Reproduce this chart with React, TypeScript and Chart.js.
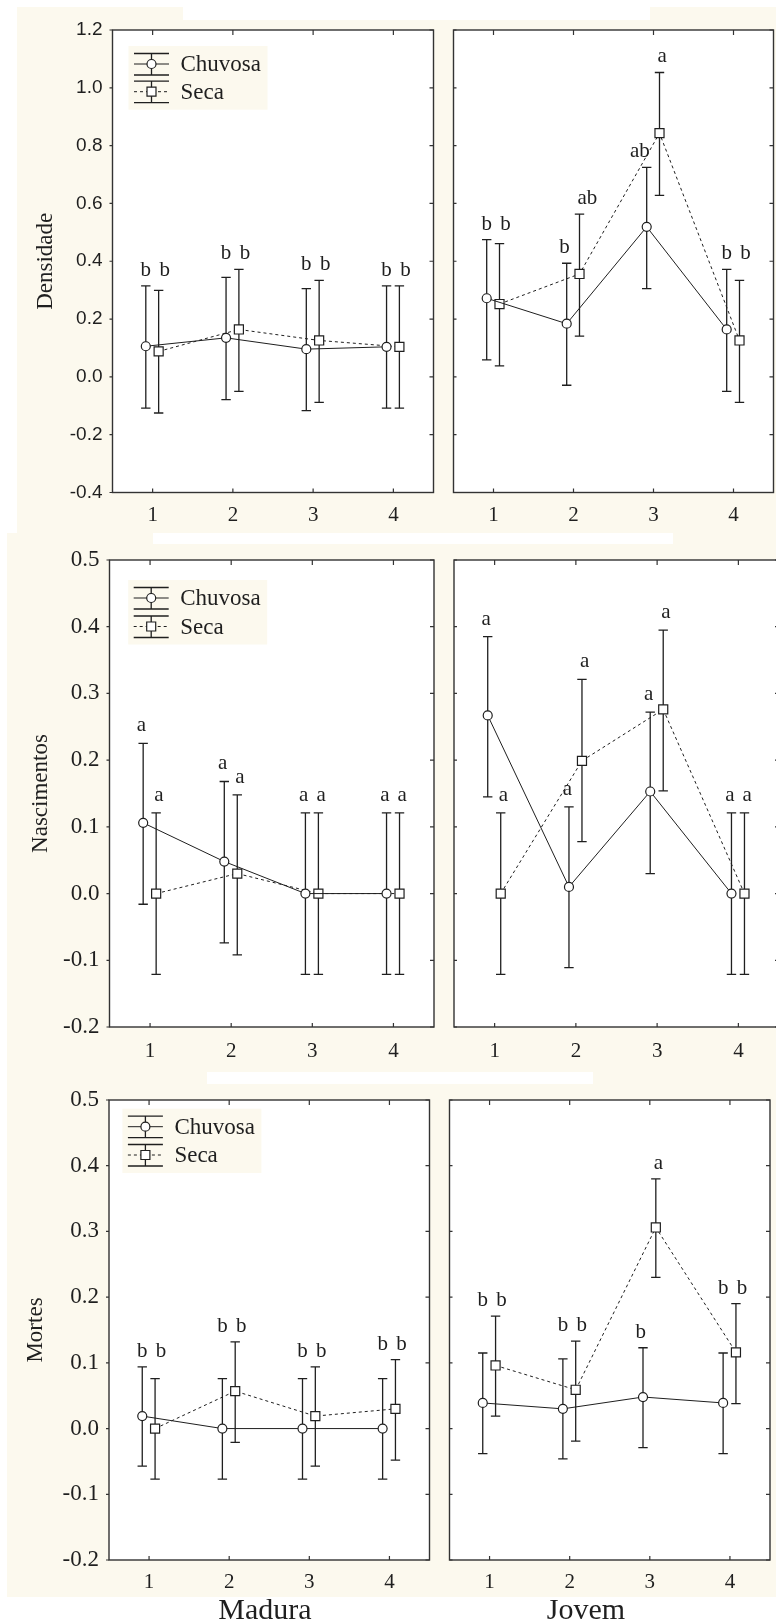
import React, { useEffect, useRef } from "react";
import { Chart, registerables } from "chart.js";

Chart.register(...registerables);

// ---------------- data ----------------
const categories = ["1", "2", "3", "4"];
const seriesNames = ["Chuvosa", "Seca"];
const densidadeTicks = [-0.4, -0.2, 0, 0.2, 0.4, 0.6, 0.8, 1.0, 1.2];
const taxaTicks = [-0.2, -0.1, 0, 0.1, 0.2, 0.3, 0.4, 0.5];
const rowTitles = ["Densidade", "Nascimentos", "Mortes"];
const colTitles = ["Madura", "Jovem"];

// Densidade – Madura
const densMadChuvMean = [0.106, 0.135, 0.096, 0.104];
const densMadChuvUpper = [0.315, 0.344, 0.305, 0.315];
const densMadChuvLower = [-0.108, -0.079, -0.117, -0.108];
const densMadChuvLetters = ["b", "b", "b", "b"];
const densMadSecaMean = [0.088, 0.164, 0.126, 0.104];
const densMadSecaUpper = [0.299, 0.372, 0.334, 0.315];
const densMadSecaLower = [-0.125, -0.05, -0.088, -0.108];
const densMadSecaLetters = ["b", "b", "b", "b"];

// Densidade – Jovem
const densJovChuvMean = [0.272, 0.184, 0.519, 0.164];
const densJovChuvUpper = [0.475, 0.393, 0.725, 0.372];
const densJovChuvLower = [0.059, -0.029, 0.305, -0.05];
const densJovChuvLetters = ["b", "b", "ab", "b"];
const densJovSecaMean = [0.252, 0.356, 0.843, 0.126];
const densJovSecaUpper = [0.461, 0.563, 1.053, 0.334];
const densJovSecaLower = [0.038, 0.141, 0.628, -0.088];
const densJovSecaLetters = ["b", "ab", "a", "b"];

// Nascimentos – Madura
const nascMadChuvMean = [0.106, 0.048, 0, 0];
const nascMadChuvUpper = [0.225, 0.168, 0.121, 0.121];
const nascMadChuvLower = [-0.016, -0.074, -0.121, -0.121];
const nascMadChuvLetters = ["a", "a", "a", "a"];
const nascMadSecaMean = [0, 0.03, 0, 0];
const nascMadSecaUpper = [0.121, 0.148, 0.121, 0.121];
const nascMadSecaLower = [-0.121, -0.092, -0.121, -0.121];
const nascMadSecaLetters = ["a", "a", "a", "a"];

// Nascimentos – Jovem
const nascJovChuvMean = [0.267, 0.01, 0.153, 0];
const nascJovChuvUpper = [0.385, 0.13, 0.272, 0.121];
const nascJovChuvLower = [0.145, -0.111, 0.03, -0.121];
const nascJovChuvLetters = ["a", "a", "a", "a"];
const nascJovSecaMean = [0, 0.199, 0.276, 0];
const nascJovSecaUpper = [0.121, 0.321, 0.395, 0.121];
const nascJovSecaLower = [-0.121, 0.078, 0.154, -0.121];
const nascJovSecaLetters = ["a", "a", "a", "a"];

// Mortes – Madura
const mortMadChuvMean = [0.019, 0, 0, 0];
const mortMadChuvUpper = [0.094, 0.076, 0.076, 0.076];
const mortMadChuvLower = [-0.057, -0.077, -0.077, -0.077];
const mortMadChuvLetters = ["b", "b", "b", "b"];
const mortMadSecaMean = [0, 0.057, 0.019, 0.03];
const mortMadSecaUpper = [0.076, 0.132, 0.094, 0.105];
const mortMadSecaLower = [-0.077, -0.021, -0.057, -0.048];
const mortMadSecaLetters = ["b", "b", "b", "b"];

// Mortes – Jovem
const mortJovChuvMean = [0.039, 0.03, 0.048, 0.039];
const mortJovChuvUpper = [0.115, 0.106, 0.123, 0.115];
const mortJovChuvLower = [-0.038, -0.046, -0.029, -0.038];
const mortJovChuvLetters = ["b", "b", "b", "b"];
const mortJovSecaMean = [0.096, 0.059, 0.306, 0.116];
const mortJovSecaUpper = [0.171, 0.133, 0.38, 0.19];
const mortJovSecaLower = [0.019, -0.019, 0.23, 0.038];
const mortJovSecaLetters = ["b", "b", "a", "b"];

// ---------------- styling / layout ----------------
const SERIF = "'Liberation Serif', 'Times New Roman', serif";
const SANS = "'Liberation Sans', Arial, sans-serif";
const INK = "#1f1f1f";
const CREAM = "#fcf9ee";
const SERIES_OFFSET = [-0.085, 0.075];

const ROW_Y = [
  { t: 30, b: 492.5 },
  { t: 560, b: 1027 },
  { t: 1100, b: 1560 },
];
const COL_X = [
  [{ l: 112.5, r: 433.5 }, { l: 453.5, r: 773.5 }],
  [{ l: 109.5, r: 434 }, { l: 454, r: 779 }],
  [{ l: 109, r: 429.5 }, { l: 449.5, r: 770 }],
];
const ROW_STYLE = [
  {
    yMin: -0.4, yMax: 1.2, yTicks: densidadeTicks,
    yFont: { family: SANS, size: 19 },
    titleX: 46, legend: { dx: 39, dy: 34, gap: 27.7 },
    joinSame: true, gap: 10, xPad: 10,
  },
  {
    yMin: -0.2, yMax: 0.5, yTicks: taxaTicks,
    yFont: { family: SERIF, size: 23 },
    titleX: 41, legend: { dx: 41.7, dy: 38, gap: 28.5 },
    joinSame: false, gap: 12, xPad: 11.5,
  },
  {
    yMin: -0.2, yMax: 0.5, yTicks: taxaTicks,
    yFont: { family: SERIF, size: 23 },
    titleX: 36, legend: { dx: 36.4, dy: 26.7, gap: 28.3 },
    joinSame: true, gap: 10, xPad: 10,
  },
];
const X_TITLE_POS = [
  { x: 265, y: 1611 },
  { x: 586, y: 1611 },
];

type Series = { mean: number[]; upper: number[]; lower: number[]; letters: string[] };
const mk = (mean: number[], upper: number[], lower: number[], letters: string[]): Series => ({
  mean, upper, lower, letters,
});

const PANEL_SERIES: Series[][][] = [
  [
    [mk(densMadChuvMean, densMadChuvUpper, densMadChuvLower, densMadChuvLetters),
     mk(densMadSecaMean, densMadSecaUpper, densMadSecaLower, densMadSecaLetters)],
    [mk(densJovChuvMean, densJovChuvUpper, densJovChuvLower, densJovChuvLetters),
     mk(densJovSecaMean, densJovSecaUpper, densJovSecaLower, densJovSecaLetters)],
  ],
  [
    [mk(nascMadChuvMean, nascMadChuvUpper, nascMadChuvLower, nascMadChuvLetters),
     mk(nascMadSecaMean, nascMadSecaUpper, nascMadSecaLower, nascMadSecaLetters)],
    [mk(nascJovChuvMean, nascJovChuvUpper, nascJovChuvLower, nascJovChuvLetters),
     mk(nascJovSecaMean, nascJovSecaUpper, nascJovSecaLower, nascJovSecaLetters)],
  ],
  [
    [mk(mortMadChuvMean, mortMadChuvUpper, mortMadChuvLower, mortMadChuvLetters),
     mk(mortMadSecaMean, mortMadSecaUpper, mortMadSecaLower, mortMadSecaLetters)],
    [mk(mortJovChuvMean, mortJovChuvUpper, mortJovChuvLower, mortJovChuvLetters),
     mk(mortJovSecaMean, mortJovSecaUpper, mortJovSecaLower, mortJovSecaLetters)],
  ],
];

const PAD_TOP = 25;
const PAD_RIGHT = 15;

function panelBox(row: number, col: number) {
  const { t, b } = ROW_Y[row];
  const { l, r } = COL_X[row][col];
  const cx = col === 0 ? 0 : Math.floor(l - 15);
  const cy = Math.floor(t - PAD_TOP);
  const padTop = t - cy;
  const wL = l - cx;
  const cw = Math.ceil(r + PAD_RIGHT - cx);
  const padRight = cw - (r - cx);
  const bottomEdge = row === 2 ? 1640 : Math.ceil(b + 60);
  const ch = bottomEdge - cy;
  const hB = bottomEdge - b;
  return { cx, cy, cw, ch, wL, hB, padTop, padRight };
}

function drawMarker(ctx: CanvasRenderingContext2D, kind: number, x: number, y: number) {
  ctx.save();
  ctx.fillStyle = "#ffffff";
  ctx.strokeStyle = INK;
  ctx.lineWidth = 1.2;
  ctx.setLineDash([]);
  ctx.beginPath();
  if (kind === 0) {
    ctx.arc(x, y, 4.5, 0, Math.PI * 2);
  } else {
    ctx.rect(x - 4.5, y - 4.5, 9, 9);
  }
  ctx.fill();
  ctx.stroke();
  ctx.restore();
}

function makeDecor(row: number, col: number, box: ReturnType<typeof panelBox>) {
  const st = ROW_STYLE[row];
  return {
    id: "decor",
    beforeDraw(chart: any) {
      const { ctx, chartArea: a } = chart;
      ctx.save();
      ctx.fillStyle = "#ffffff";
      ctx.fillRect(a.left, a.top, a.right - a.left, a.bottom - a.top);
      ctx.restore();
    },
    beforeDatasetsDraw(chart: any) {
      const { ctx } = chart;
      const xs = chart.scales.x;
      const ys = chart.scales.y;
      ctx.save();
      ctx.strokeStyle = INK;
      ctx.lineWidth = 1.3;
      chart.data.datasets.forEach((ds: any) => {
        ds.data.forEach((p: any, j: number) => {
          const x = xs.getPixelForValue(p.x);
          const yu = ys.getPixelForValue(ds.errUpper[j]);
          const yl = ys.getPixelForValue(ds.errLower[j]);
          ctx.beginPath();
          ctx.moveTo(x, yu);
          ctx.lineTo(x, yl);
          ctx.moveTo(x - 4.7, yu);
          ctx.lineTo(x + 4.7, yu);
          ctx.moveTo(x - 4.7, yl);
          ctx.lineTo(x + 4.7, yl);
          ctx.stroke();
        });
      });
      ctx.restore();
    },
    afterDatasetsDraw(chart: any) {
      const { ctx, chartArea: a } = chart;
      const xs = chart.scales.x;
      const ys = chart.scales.y;
      const [c, s] = chart.data.datasets;
      // significance letters
      ctx.save();
      ctx.fillStyle = INK;
      ctx.font = `21px ${SERIF}`;
      ctx.textBaseline = "alphabetic";
      for (let j = 0; j < categories.length; j++) {
        const lc = c.letters[j];
        const ls = s.letters[j];
        const xc = xs.getPixelForValue(c.data[j].x);
        const xsS = xs.getPixelForValue(s.data[j].x);
        const yc = ys.getPixelForValue(c.errUpper[j]);
        const ysS = ys.getPixelForValue(s.errUpper[j]);
        if (st.joinSame && lc === ls) {
          const y = Math.min(yc, ysS) - st.gap;
          ctx.textAlign = "center";
          ctx.fillText(lc, xc, y);
          ctx.fillText(ls, xsS + 6, y);
        } else {
          if (lc) {
            ctx.textAlign = "right";
            ctx.fillText(lc, xc + 3, yc - st.gap);
          }
          if (ls) {
            ctx.textAlign = "left";
            ctx.fillText(ls, xsS - 2, ysS - st.gap);
          }
        }
      }
      ctx.restore();

      // legend (left column only)
      if (col === 0) {
        const lg = st.legend;
        const sx = a.left + lg.dx;
        const y1 = a.top + lg.dy;
        ctx.save();
        ctx.fillStyle = CREAM;
        ctx.fillRect(sx - 23, y1 - 18, 139, lg.gap + 36);
        chart.data.datasets.forEach((ds: any, i: number) => {
          const y = y1 + i * lg.gap;
          ctx.strokeStyle = INK;
          ctx.lineWidth = 1.3;
          ctx.setLineDash([]);
          ctx.beginPath();
          ctx.moveTo(sx, y - 10.5);
          ctx.lineTo(sx, y + 11);
          ctx.moveTo(sx - 17.5, y - 10.5);
          ctx.lineTo(sx + 17.5, y - 10.5);
          ctx.moveTo(sx - 17.5, y + 11);
          ctx.lineTo(sx + 17.5, y + 11);
          ctx.stroke();
          ctx.lineWidth = 1;
          ctx.setLineDash(i === 1 ? [3, 3] : []);
          ctx.beginPath();
          ctx.moveTo(sx - 17.5, y);
          ctx.lineTo(sx + 17.5, y);
          ctx.stroke();
          ctx.setLineDash([]);
          drawMarker(ctx, i, sx, y);
          ctx.fillStyle = INK;
          ctx.font = `23px ${SERIF}`;
          ctx.textAlign = "left";
          ctx.textBaseline = "middle";
          ctx.fillText(ds.label, sx + 29, y + 1);
        });
        ctx.restore();
      }
    },
    afterDraw(chart: any) {
      const { ctx, chartArea: a } = chart;
      const xs = chart.scales.x;
      const ys = chart.scales.y;
      ctx.save();
      ctx.strokeStyle = "#333333";
      ctx.lineWidth = 1.4;
      ctx.strokeRect(a.left, a.top, a.right - a.left, a.bottom - a.top);
      ctx.lineWidth = 1.2;
      ctx.beginPath();
      xs.ticks.forEach((t: any) => {
        const px = xs.getPixelForValue(t.value);
        ctx.moveTo(px, a.top);
        ctx.lineTo(px, a.top + 5);
        ctx.moveTo(px, a.bottom);
        ctx.lineTo(px, a.bottom - 4);
      });
      ys.ticks.forEach((t: any) => {
        const py = ys.getPixelForValue(t.value);
        if (col === 0) {
          ctx.moveTo(a.left - 3, py);
          ctx.lineTo(a.left, py);
        } else {
          ctx.moveTo(a.left, py);
          ctx.lineTo(a.left + 3, py);
        }
        ctx.moveTo(a.right - 4, py);
        ctx.lineTo(a.right, py);
      });
      ctx.stroke();
      ctx.restore();

      ctx.save();
      ctx.fillStyle = INK;
      ctx.textAlign = "center";
      ctx.textBaseline = "middle";
      if (col === 0) {
        ctx.font = `23px ${SERIF}`;
        ctx.translate(st.titleX - box.cx, (a.top + a.bottom) / 2);
        ctx.rotate(-Math.PI / 2);
        ctx.fillText(rowTitles[row], 0, 0);
        ctx.setTransform(1, 0, 0, 1, 0, 0);
      }
      if (row === 2) {
        const p = X_TITLE_POS[col];
        ctx.font = `30px ${SERIF}`;
        ctx.fillText(colTitles[col], p.x - box.cx, p.y - box.cy);
      }
      ctx.restore();
    },
  };
}

function Panel({ row, col }: { row: number; col: number }) {
  const ref = useRef<HTMLCanvasElement>(null);
  const box = panelBox(row, col);
  useEffect(() => {
    const st = ROW_STYLE[row];
    const series = PANEL_SERIES[row][col];
    const chart = new Chart(ref.current as HTMLCanvasElement, {
      type: "line",
      data: {
        datasets: series.map((s, i) => ({
          label: seriesNames[i],
          data: s.mean.map((m, j) => ({ x: j + 1 + SERIES_OFFSET[i], y: m })),
          errUpper: s.upper,
          errLower: s.lower,
          letters: s.letters,
          borderColor: INK,
          borderWidth: 1,
          borderDash: i === 1 ? [3, 3] : [],
          pointStyle: i === 0 ? "circle" : "rect",
          pointRadius: i === 0 ? 4.5 : 6.4,
          pointBackgroundColor: "#ffffff",
          pointBorderColor: INK,
          pointBorderWidth: 1.2,
          tension: 0,
          fill: false,
        })) as any,
      },
      options: {
        animation: false,
        responsive: false,
        devicePixelRatio: 1,
        events: [],
        layout: { padding: { left: 0, top: box.padTop, right: box.padRight, bottom: 0 } },
        plugins: { legend: { display: false }, tooltip: { enabled: false } },
        scales: {
          x: {
            type: "linear",
            min: 0.5,
            max: 4.5,
            grid: { display: false, drawTicks: false },
            border: { display: false },
            afterBuildTicks: (s: any) => {
              s.ticks = categories.map((_, i) => ({ value: i + 1 }));
            },
            afterFit: (s: any) => {
              s.height = box.hB;
            },
            ticks: {
              autoSkip: false,
              maxRotation: 0,
              padding: st.xPad,
              color: INK,
              font: { family: SERIF, size: 21 },
              callback: (v: any) => categories[Math.round(Number(v)) - 1] ?? "",
            },
          },
          y: {
            type: "linear",
            min: st.yMin,
            max: st.yMax,
            grid: { display: false, drawTicks: false },
            border: { display: false },
            afterBuildTicks: (s: any) => {
              s.ticks = st.yTicks.map((v) => ({ value: v }));
            },
            afterFit: (s: any) => {
              s.width = box.wL;
            },
            ticks: {
              display: col === 0,
              padding: 10,
              color: INK,
              font: st.yFont,
              callback: (v: any) => Number(v).toFixed(1),
            },
          },
        },
      } as any,
      plugins: [makeDecor(row, col, box) as any],
    });
    return () => chart.destroy();
  }, []);
  return (
    <canvas
      ref={ref}
      width={box.cw}
      height={box.ch}
      style={{ position: "absolute", left: box.cx, top: box.cy, width: box.cw, height: box.ch }}
    />
  );
}

const BG_RECTS = [
  { l: 17, t: 7, w: 166, h: 13, c: CREAM },
  { l: 650, t: 7, w: 126, h: 13, c: CREAM },
  { l: 17, t: 20, w: 759, h: 513, c: CREAM },
  { l: 7, t: 533, w: 769, h: 1064, c: CREAM },
  { l: 153, t: 533, w: 520, h: 11, c: "#ffffff" },
  { l: 207, t: 1072, w: 386, h: 12, c: "#ffffff" },
];

export default function App() {
  const panels: { row: number; col: number }[] = [];
  for (let r = 0; r < 3; r++) for (let c = 0; c < 2; c++) panels.push({ row: r, col: c });
  return (
    <div
      style={{
        position: "absolute",
        left: 0,
        top: 0,
        width: 776,
        height: 1624,
        overflow: "hidden",
        background: "#ffffff",
      }}
    >
      {BG_RECTS.map((b, i) => (
        <div
          key={i}
          style={{ position: "absolute", left: b.l, top: b.t, width: b.w, height: b.h, background: b.c }}
        />
      ))}
      {panels.map((p) => (
        <Panel key={`${p.row}-${p.col}`} row={p.row} col={p.col} />
      ))}
    </div>
  );
}
